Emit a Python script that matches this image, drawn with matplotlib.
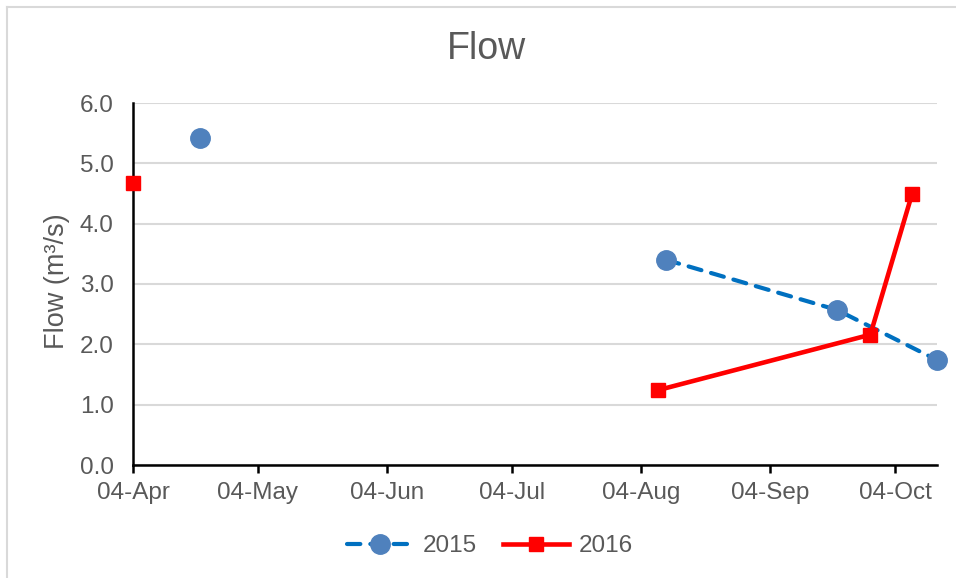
import numpy as np
import matplotlib
matplotlib.use("Agg")
import matplotlib.pyplot as plt
import matplotlib.dates as mdates
from matplotlib.lines import Line2D
from datetime import datetime

plt.rcParams['font.family'] = ['Liberation Sans', 'DejaVu Sans']

# Data (dates placed on a common year axis)
dates_2015 = ["2016-04-20", "2016-06-15", "2016-08-10", "2016-09-20", "2016-10-14"]
flow_2015 = [5.42, np.nan, 3.40, 2.57, 1.74]
dates_2016 = ["2016-04-04", "2016-06-15", "2016-08-08", "2016-09-28", "2016-10-08"]
flow_2016 = [4.67, np.nan, 1.24, 2.16, 4.49]
series_labels = ["2015", "2016"]
y_ticks = [0.0, 1.0, 2.0, 3.0, 4.0, 5.0, 6.0]
x_start, x_end = "2016-04-04", "2016-10-14"

def to_dt(lst):
    return [datetime.strptime(d, "%Y-%m-%d") for d in lst]

fig = plt.figure(figsize=(9.56, 5.78), dpi=100)
ax = fig.add_axes([133/956, 1-465/578, (937-133)/956, (465-103)/578])

grey = "#595959"
ax.plot(to_dt(dates_2015), flow_2015, color="#0070C0", lw=3.0, ls=(0, (3.2, 2.4)),
        marker="o", ms=14, mfc="#4F81BD", mec="#4F81BD", clip_on=False, zorder=3,
        dash_capstyle="round")
ax.plot(to_dt(dates_2016), flow_2016, color="#FF0000", lw=3.3, marker="s", ms=9.5,
        mfc="#FF0000", mec="#FF0000", clip_on=False, zorder=4)

ax.set_xlim(datetime.strptime(x_start, "%Y-%m-%d"), datetime.strptime(x_end, "%Y-%m-%d"))
ax.set_ylim(0, 6)
ax.set_yticks(y_ticks)
ax.set_yticklabels([f"{v:.1f}" for v in y_ticks])
ax.xaxis.set_major_locator(mdates.MonthLocator(bymonthday=4))
ax.xaxis.set_major_formatter(mdates.DateFormatter("%d-%b"))

ax.grid(axis="y", color="#D9D9D9", lw=1.5)
ax.set_axisbelow(True)
for s in ["top", "right"]:
    ax.spines[s].set_visible(False)
for s in ["left", "bottom"]:
    ax.spines[s].set_color("black")
    ax.spines[s].set_linewidth(1.8)
ax.tick_params(axis="y", length=0, labelsize=17.5, labelcolor=grey, pad=14)
ax.tick_params(axis="x", length=6, width=1.8, direction="out", labelsize=17.5,
               labelcolor=grey, pad=6)

ax.set_ylabel("Flow (m³/s)", fontsize=19.5, color=grey)
ax.yaxis.set_label_coords((70-133)/804, 0.507)
fig.text(487/956, 1-49/578, "Flow", ha="center", va="center", fontsize=27, color=grey)

handles = [
    Line2D([], [], color="#0070C0", lw=3.0, ls=(0, (3.2, 2.4)), marker="o", ms=14,
           mfc="#4F81BD", mec="#4F81BD", dash_capstyle="round"),
    Line2D([], [], color="#FF0000", lw=3.3, marker="s", ms=9.5, mfc="#FF0000", mec="#FF0000"),
]
fig.legend(handles, series_labels, loc="center", bbox_to_anchor=(490/956, 1-546/578), ncol=2,
           frameon=False, fontsize=17.5, labelcolor=grey, handlelength=2.7,
           handletextpad=0.4, columnspacing=1.1)

# chart border
fig.add_artist(plt.Line2D([7/956, 7/956], [0, 1-7/578], transform=fig.transFigure,
                          color="#D9D9D9", lw=1.5))
fig.add_artist(plt.Line2D([7/956, 1], [1-7/578, 1-7/578], transform=fig.transFigure,
                          color="#D9D9D9", lw=1.5))

fig.savefig("out.png", dpi=100)
